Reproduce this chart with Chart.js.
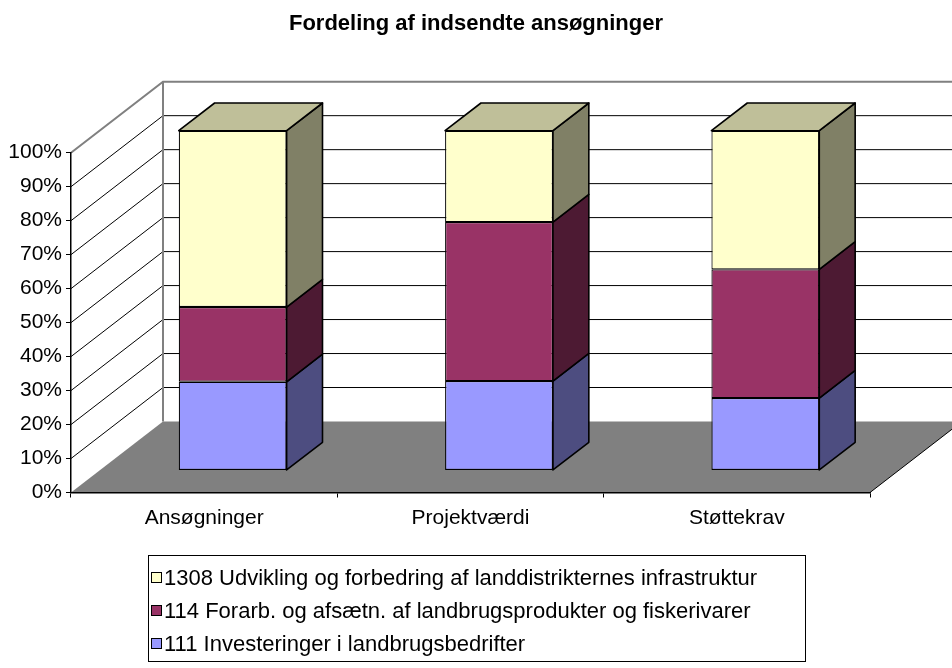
<!DOCTYPE html>
<html><head><meta charset="utf-8">
<script src="https://cdn.jsdelivr.net/npm/chart.js@4.4.1/dist/chart.umd.min.js"></script>
<style>html,body{margin:0;padding:0;background:#fff;}canvas{display:block;}</style>
</head><body>
<canvas id="c" width="952" height="668"></canvas>
<script>
// ---- data ----
const categories = ['Ansøgninger', 'Projektværdi', 'Støttekrav'];
const seriesNames = [
  '111 Investeringer i landbrugsbedrifter',
  '114 Forarb. og afsætn. af landbrugsprodukter og fiskerivarer',
  '1308 Udvikling og forbedring af landdistrikternes infrastruktur'
];
const s111 = [26.1, 26.3, 21.3];
const s114 = [22.0, 46.8, 37.9];
const s1308 = [51.9, 26.9, 40.8];
const yTickLabels = ['0%','10%','20%','30%','40%','50%','60%','70%','80%','90%','100%'];
const chartTitle = 'Fordeling af indsendte ansøgninger';

// ---- styles ----
const FONT = "'Liberation Sans', Arial, sans-serif";
const frontColors = ['#9999FF', '#993366', '#FFFFCC'];
const sideColors  = ['#4D4D80', '#4D1A33', '#808066'];
const topColors   = ['#7373BF', '#73264D', '#BFBF99'];
const DEPTH = {x: 92, y: -71};
const BAR_FRONT = 0.31, BAR_DEPTH = 0.39;

const threeD = {
  id: 'threeD',
  beforeDraw(chart) {
    const ctx = chart.ctx, area = chart.chartArea, ys = chart.scales.y;
    const W = chart.width;
    ctx.save();
    ctx.fillStyle = '#fff';
    ctx.fillRect(0, 0, W, chart.height);
    const L = area.left, R = area.right;
    const B = ys.getPixelForValue(0), T = ys.getPixelForValue(100);
    // floor
    ctx.fillStyle = '#808080';
    ctx.beginPath();
    ctx.moveTo(L, B); ctx.lineTo(R, B); ctx.lineTo(R + DEPTH.x, B + DEPTH.y); ctx.lineTo(L + DEPTH.x, B + DEPTH.y);
    ctx.closePath(); ctx.fill();
    ctx.strokeStyle = '#000'; ctx.lineWidth = 1;
    ctx.beginPath(); ctx.moveTo(R, B); ctx.lineTo(R + DEPTH.x, B + DEPTH.y); ctx.stroke();
    // gridlines on side and back walls
    ys.ticks.forEach(t => {
      if (t.value === 0) return;
      const y = ys.getPixelForValue(t.value);
      const top = t.value === 100;
      ctx.strokeStyle = top ? '#808080' : '#000';
      ctx.lineWidth = top ? 2 : 1;
      ctx.beginPath();
      ctx.moveTo(L, y); ctx.lineTo(L + DEPTH.x, y + DEPTH.y); ctx.lineTo(W, y + DEPTH.y);
      ctx.stroke();
    });
    // back wall left edge
    ctx.strokeStyle = '#808080'; ctx.lineWidth = 2;
    ctx.beginPath(); ctx.moveTo(L + DEPTH.x, B + DEPTH.y); ctx.lineTo(L + DEPTH.x, T + DEPTH.y); ctx.stroke();
    ctx.restore();
  },
  beforeDatasetsDraw(chart) {
    chart.ctx.save();
    chart.ctx.translate(DEPTH.x * BAR_FRONT, DEPTH.y * BAR_FRONT);
  },
  afterDatasetsDraw(chart) {
    const ctx = chart.ctx;
    const bx = DEPTH.x * BAR_DEPTH, by = DEPTH.y * BAR_DEPTH;
    const n = chart.data.datasets.length;
    chart.data.datasets.forEach((ds, di) => {
      const meta = chart.getDatasetMeta(di);
      meta.data.forEach(el => {
        const p = el.getProps(['x', 'y', 'base', 'width'], true);
        const left = p.x - p.width / 2, right = p.x + p.width / 2;
        const top = Math.min(p.y, p.base), bot = Math.max(p.y, p.base);
        ctx.lineWidth = 1.6; ctx.strokeStyle = '#000'; ctx.lineJoin = 'round';
        ctx.fillStyle = sideColors[di];
        ctx.beginPath();
        ctx.moveTo(right, top); ctx.lineTo(right + bx, top + by); ctx.lineTo(right + bx, bot + by); ctx.lineTo(right, bot);
        ctx.closePath(); ctx.fill(); ctx.stroke();
        if (di === n - 1) {
          ctx.fillStyle = topColors[di];
          ctx.beginPath();
          ctx.moveTo(left, top); ctx.lineTo(left + bx, top + by); ctx.lineTo(right + bx, top + by); ctx.lineTo(right, top);
          ctx.closePath(); ctx.fill(); ctx.stroke();
        }
      });
    });
    ctx.restore();
  },
  afterDraw(chart) {
    const ctx = chart.ctx;
    ctx.save();
    const bx = 148.5, byy = 555.5, bw = 657, bh = 106;
    ctx.strokeStyle = '#000'; ctx.lineWidth = 1;
    ctx.strokeRect(bx, byy, bw, bh);
    const rows = [578, 611, 644];
    const order = [2, 1, 0];
    ctx.font = '22px ' + FONT;
    ctx.textBaseline = 'middle';
    ctx.textAlign = 'left';
    order.forEach((di, i) => {
      const y = rows[i];
      ctx.fillStyle = frontColors[di];
      ctx.fillRect(151.5, y - 5.5, 10, 10);
      ctx.strokeRect(151.5, y - 5.5, 10, 10);
      ctx.fillStyle = '#000';
      ctx.fillText(chart.data.datasets[di].label, 164, y + 1);
    });
    ctx.restore();
  }
};

const mk = (i, data) => ({
  label: seriesNames[i], data,
  backgroundColor: frontColors[i], borderColor: '#000', borderWidth: 1.2, borderSkipped: false,
  categoryPercentage: 1.0, barPercentage: 0.405
});

new Chart(document.getElementById('c'), {
  type: 'bar',
  data: { labels: categories, datasets: [mk(0, s111), mk(1, s114), mk(2, s1308)] },
  options: {
    responsive: false, animation: false, events: [],
    layout: { padding: { left: 0, right: 0, top: 0, bottom: 135.5 } },
    plugins: {
      legend: { display: false },
      tooltip: { enabled: false },
      title: { display: true, text: chartTitle, color: '#000',
        font: { family: FONT, size: 22, weight: 'bold', lineHeight: 1.2 },
        padding: { top: 11, bottom: 152.7 - 11 - 26.4 } }
    },
    scales: {
      x: {
        stacked: true, offset: true,
        grid: { display: true, drawOnChartArea: false, drawTicks: true, tickLength: 5, color: '#000', offset: true },
        border: { display: true, color: '#000', width: 1.5 },
        ticks: { color: '#000', font: { family: FONT, size: 21 }, padding: 8, maxRotation: 0, autoSkip: false },
        afterFit(s) { s.height = 40; }
      },
      y: {
        stacked: true, min: 0, max: 100,
        ticks: { stepSize: 10, color: '#000', font: { family: FONT, size: 21 }, padding: 4,
          callback: (v) => yTickLabels[Math.round(v / 10)] },
        grid: { display: true, drawOnChartArea: false, drawTicks: true, tickLength: 5, color: '#000' },
        border: { display: true, color: '#000', width: 1.5 },
        afterFit(s) { s.width = 71; }
      },
      depthSpace: {
        type: 'linear', position: 'right', display: true,
        grid: { display: false, drawTicks: false }, border: { display: false },
        ticks: { display: false },
        afterFit(s) { s.width = 82; }
      }
    }
  },
  plugins: [threeD]
});
</script>
</body></html>
